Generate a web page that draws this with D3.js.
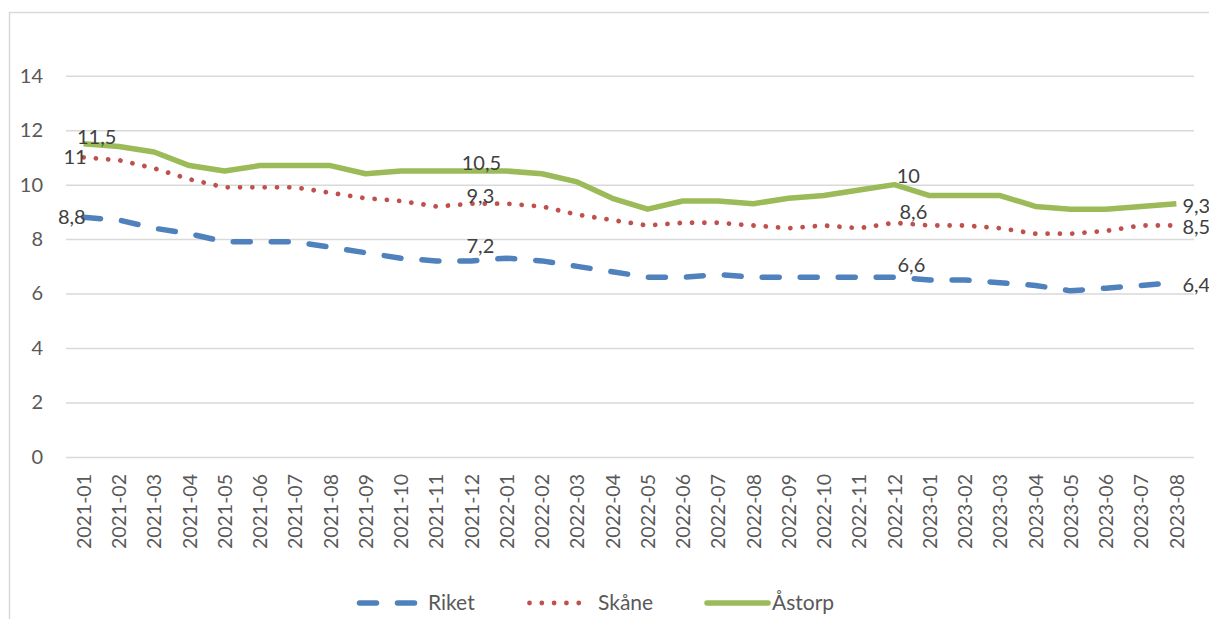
<!DOCTYPE html>
<html>
<head>
<meta charset="utf-8">
<script src="https://cdnjs.cloudflare.com/ajax/libs/d3/7.8.5/d3.min.js"></script>
<style>
  body { margin: 0; background: #fff; }
  svg { display: block; font-family: Lato, "Open Sans", sans-serif; }
</style>
</head>
<body>
<div id="chart1"></div>
<script>
var months = ['2021-01','2021-02','2021-03','2021-04','2021-05','2021-06','2021-07','2021-08',
  '2021-09','2021-10','2021-11','2021-12','2022-01','2022-02','2022-03','2022-04','2022-05',
  '2022-06','2022-07','2022-08','2022-09','2022-10','2022-11','2022-12','2023-01','2023-02',
  '2023-03','2023-04','2023-05','2023-06','2023-07','2023-08'];

var riket  = [8.8,8.7,8.4,8.2,7.9,7.9,7.9,7.7,7.5,7.3,7.2,7.2,7.3,7.2,7.0,6.8,6.6,6.6,6.7,6.6,
  6.6,6.6,6.6,6.6,6.5,6.5,6.4,6.3,6.1,6.2,6.3,6.4];
var skane  = [11.0,10.9,10.6,10.2,9.9,9.9,9.9,9.7,9.5,9.4,9.2,9.3,9.3,9.2,8.9,8.7,8.5,8.6,8.6,8.5,
  8.4,8.5,8.4,8.6,8.5,8.5,8.4,8.2,8.2,8.3,8.5,8.5];
var astorp = [11.5,11.4,11.2,10.7,10.5,10.7,10.7,10.7,10.4,10.5,10.5,10.5,10.5,10.4,10.1,9.5,9.1,
  9.4,9.4,9.3,9.5,9.6,9.8,10.0,9.6,9.6,9.6,9.2,9.1,9.1,9.2,9.3];

var seriesNames = ['Riket', 'Skåne', 'Åstorp'];
var yTicks = [0, 2, 4, 6, 8, 10, 12, 14];
var labelIdx = [0, 11, 23, 31];

function c1() {
var W = 1209, H = 619,
    margin = { top: 75.7, right: 1194, bottom: 457, left: 66 };

var svg = d3.select('#chart1').append('svg')
  .attr('width', W)
  .attr('height', H);

// chart frame (runs past the right/bottom edge in the original)
svg.append('rect')
  .attr('x', 9.5).attr('y', 12.5)
  .attr('width', 1400).attr('height', 800)
  .attr('fill', 'none')
  .attr('stroke', '#d9d9d9')
  .attr('stroke-width', 1.5);

var x = d3.scalePoint()
  .domain(months)
  .range([margin.left, margin.right])
  .padding(0.5);

var y = d3.scaleLinear()
  .domain([0, 14])
  .range([margin.bottom, margin.top]);

// gridlines + y labels
var yAxis = d3.axisLeft(y)
  .tickValues(yTicks)
  .tickSize(-(margin.right - margin.left))
  .tickPadding(23)
  .tickFormat(d3.format('d'));

var yGuide = svg.append('g')
  .attr('transform', 'translate(' + margin.left + ',0)')
  .call(yAxis);
yGuide.select('.domain').remove();
yGuide.selectAll('.tick line')
  .attr('stroke', '#d9d9d9')
  .attr('stroke-width', 1.5);
yGuide.selectAll('.tick text')
  .attr('fill', '#595959')
  .style('font-size', '20px')
  .style('font-family', 'Lato, sans-serif');

// x labels, rotated
var xAxis = d3.axisBottom(x).tickSize(0).tickPadding(0);
var xGuide = svg.append('g')
  .attr('transform', 'translate(0,' + margin.bottom + ')')
  .call(xAxis);
xGuide.select('.domain').remove();
xGuide.selectAll('.tick text')
  .attr('transform', 'rotate(-90)')
  .attr('x', -17)
  .attr('y', 0)
  .attr('dy', '0.35em')
  .attr('text-anchor', 'end')
  .attr('fill', '#595959')
  .style('font-size', '19.5px')
  .style('font-family', 'Lato, sans-serif');

var styles = {
  'Riket':  { color: '#4f81bd', width: 5.5, dash: '17,21', data: riket },
  'Skåne':  { color: '#c0504d', width: 4.8, dash: '0.01,12.3', data: skane },
  'Åstorp': { color: '#9bbb59', width: 5.5, dash: null, data: astorp }
};

var line = d3.line()
  .x(function(d, i) { return x(months[i]); })
  .y(function(d) { return y(d); });

seriesNames.forEach(function(name) {
  var s = styles[name];
  svg.append('path')
    .datum(s.data)
    .attr('d', line)
    .attr('fill', 'none')
    .attr('stroke', s.color)
    .attr('stroke-width', s.width)
    .attr('stroke-linecap', s.dash ? 'round' : 'butt')
    .attr('stroke-linejoin', 'round')
    .attr('stroke-dasharray', s.dash);
});

// data labels: offsets per series at the labelled points
var labelPos = {
  'Riket':  [['end', 2, 0], ['middle', 9, -15], ['middle', 17, -12], ['start', 6, 2]],
  'Skåne':  [['end', 3, 0], ['middle', 9, -7.5], ['middle', 19, -11], ['start', 6, 2]],
  'Åstorp': [['middle', 13, -7], ['middle', 10, -8], ['middle', 14, -9], ['start', 6, 2]]
};

seriesNames.forEach(function(name) {
  var s = styles[name];
  svg.append('g').selectAll('text')
    .data(labelIdx)
    .enter().append('text')
      .attr('x', function(d, k) { return x(months[d]) + labelPos[name][k][1]; })
      .attr('y', function(d, k) { return y(s.data[d]) + labelPos[name][k][2]; })
      .attr('dy', '0.35em')
      .attr('text-anchor', function(d, k) { return labelPos[name][k][0]; })
      .attr('fill', '#404040')
      .style('font-size', '20px')
      .text(function(d) { return String(s.data[d]).replace('.', ','); });
});

// legend
var legendX = { 'Riket': 357, 'Skåne': 527, 'Åstorp': 707 };
var legendY = 603;
seriesNames.forEach(function(name) {
  var s = styles[name];
  var g = svg.append('g');
  var x0 = legendX[name];
  g.append('line')
    .attr('x1', x0 + (s.dash ? 2.5 : 0)).attr('x2', x0 + 61)
    .attr('y1', legendY).attr('y2', legendY)
    .attr('stroke', s.color)
    .attr('stroke-width', s.width)
    .attr('stroke-linecap', 'round')
    .attr('stroke-dasharray', s.dash);
  g.append('text')
    .attr('x', x0 + (name === 'Åstorp' ? 65 : 71))
    .attr('y', legendY)
    .attr('dy', '0.35em')
    .attr('fill', '#595959')
    .style('font-size', '21px')
    .text(name);
});
}

c1();
</script>
</body>
</html>
